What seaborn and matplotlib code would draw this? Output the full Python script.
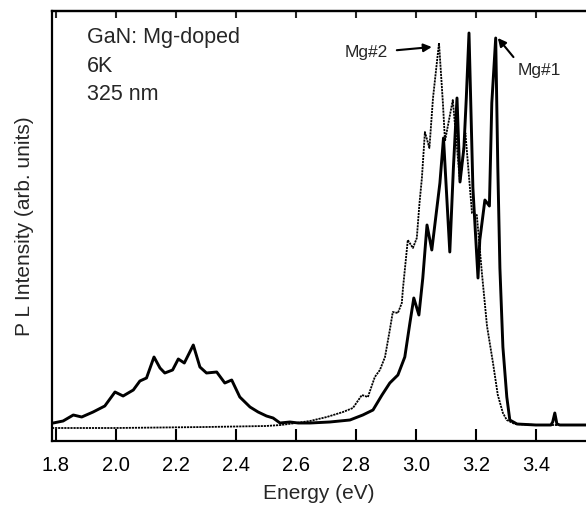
import numpy as np
import pandas as pd
import matplotlib
matplotlib.use("Agg")
import matplotlib.pyplot as plt
import seaborn as sns

# Photoluminescence spectra of Mg-doped GaN at 6 K (325 nm excitation)
mg1_energy = [1.787, 1.791, 1.824, 1.858, 1.886, 1.924, 1.963, 1.997, 2.024, 2.058,
              2.08, 2.102, 2.127, 2.147, 2.163, 2.189, 2.208, 2.228, 2.258, 2.28,
              2.302, 2.336, 2.363, 2.386, 2.413, 2.447, 2.474, 2.502, 2.524, 2.547,
              2.58, 2.608, 2.647, 2.713, 2.78, 2.823, 2.857, 2.887, 2.913, 2.94,
              2.963, 2.98, 2.993, 3.01, 3.023, 3.037, 3.053, 3.08, 3.092, 3.113,
              3.125, 3.137, 3.147, 3.16, 3.168, 3.177, 3.19, 3.207, 3.213, 3.23,
              3.245, 3.253, 3.266, 3.273, 3.28, 3.29, 3.303, 3.313, 3.337, 3.40,
              3.45, 3.456, 3.463, 3.47, 3.48, 3.567]
mg1_intensity = [5, 5, 7, 13, 11, 16, 22, 36, 32, 38,
                 47, 50, 71, 60, 55, 58, 69, 65, 83, 61,
                 55, 56, 45, 48, 31, 21, 16, 12, 10, 5,
                 6, 5, 5, 6, 8, 13, 18, 33, 45, 53,
                 71, 105, 130, 113, 150, 203, 178, 245, 290, 176,
                 260, 330, 246, 280, 330, 395, 240, 150, 188, 228,
                 222, 325, 390, 261, 160, 81, 31, 8, 4, 3,
                 3, 6, 15, 4, 3, 3]

mg2_energy = [1.787, 2.0, 2.3, 2.5, 2.55, 2.6, 2.647, 2.703, 2.757, 2.79,
              2.82, 2.84, 2.863, 2.88, 2.897, 2.913, 2.923, 2.94, 2.953, 2.957,
              2.973, 2.99, 3.003, 3.012, 3.02, 3.03, 3.045, 3.057, 3.077, 3.09,
              3.097, 3.123, 3.147, 3.165, 3.187, 3.203, 3.22, 3.237, 3.257, 3.273,
              3.29, 3.303, 3.33, 3.40, 3.567]
mg2_intensity = [0, 0, 1, 2, 3, 5, 7, 11, 16, 20,
                 33, 31, 51, 58, 71, 98, 116, 115, 125, 140,
                 188, 180, 190, 225, 250, 296, 280, 330, 385, 325,
                 287, 328, 246, 295, 215, 213, 155, 102, 65, 33,
                 15, 8, 4, 3, 3]

x_ticks = [1.8, 2.0, 2.2, 2.4, 2.6, 2.8, 3.0, 3.2, 3.4]
x_tick_labels = ["1.8", "2.0", "2.2", "2.4", "2.6", "2.8", "3.0", "3.2", "3.4"]

sns.set_style("ticks")
plt.rcParams["font.family"] = ["Liberation Sans", "DejaVu Sans"]

fig = plt.figure(figsize=(5.86, 5.07), dpi=100)
ax = fig.add_axes([52 / 586, 1 - 441 / 507, 1 - 52 / 586, (441 - 11) / 507])

mg1 = pd.DataFrame({"energy": mg1_energy, "intensity": mg1_intensity})
mg2 = pd.DataFrame({"energy": mg2_energy, "intensity": mg2_intensity})

sns.lineplot(data=mg2, x="energy", y="intensity", ax=ax, color="black",
             linewidth=1.3, linestyle=(0, (1.2, 0.5)), sort=False, estimator=None)
sns.lineplot(data=mg1, x="energy", y="intensity", ax=ax, color="black",
             linewidth=2.1, sort=False, estimator=None)

ax.set_xlim(1.787, 3.567)
ax.set_ylim(-13, 417)

ax.set_xticks(x_ticks)
ax.set_xticklabels(x_tick_labels)
ax.set_yticks([])
ax.tick_params(axis="x", direction="in", length=9, width=1.5, pad=11,
               labelsize=14.5, colors="black")

top = ax.secondary_xaxis("top")
top.set_xticks(x_ticks)
top.tick_params(axis="x", direction="in", length=5, width=1.5, labeltop=False)
top.spines["top"].set_linewidth(1.6)

for side in ("left", "bottom", "top"):
    ax.spines[side].set_linewidth(1.6)
    ax.spines[side].set_color("black")
ax.spines["right"].set_visible(False)

ax.set_xlabel("Energy (eV)", fontsize=15, labelpad=6)
ax.set_ylabel("P L Intensity (arb. units)", fontsize=15, labelpad=13)

ax.text(1.903, 385, "GaN: Mg-doped", fontsize=15.5, va="baseline")
ax.text(1.903, 356, "6K", fontsize=15.5, va="baseline")
ax.text(1.903, 328, "325 nm", fontsize=15.5, va="baseline")

ax.annotate("Mg#2", xy=(3.053, 381), xytext=(2.907, 375), fontsize=12.5,
            ha="right", va="center",
            arrowprops=dict(arrowstyle="-|>", color="black", lw=1.5,
                            mutation_scale=12, shrinkA=4, shrinkB=0))
ax.annotate("Mg#1", xy=(3.273, 390), xytext=(3.34, 358), fontsize=12.5,
            ha="left", va="center",
            arrowprops=dict(arrowstyle="-|>", color="black", lw=1.5,
                            mutation_scale=12, shrinkA=2, shrinkB=0,
                            relpos=(0.0, 1.0)))

fig.savefig("out.png", dpi=100)
